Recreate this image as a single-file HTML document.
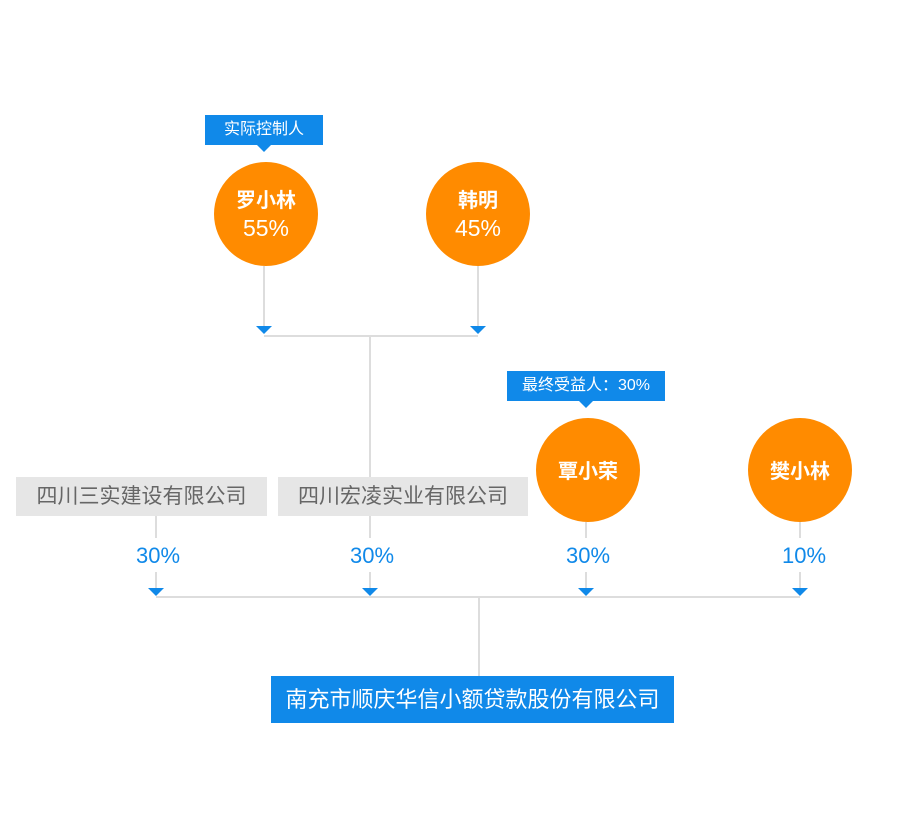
<!DOCTYPE html>
<html><head><meta charset="utf-8"><style>
body{margin:0;background:#fff;width:900px;height:839px;position:relative;overflow:hidden;font-family:"Liberation Sans","Noto Sans CJK SC",sans-serif}
.a{position:absolute}
.c{position:absolute;width:104px;height:104px;border-radius:50%;background:#FF8B00;color:#fff;text-align:center}
.tag{position:absolute;background:#1089E9;color:#fff;font-size:16px;line-height:30px;text-align:center}
.tag:after{content:"";position:absolute;left:50%;margin-left:-7px;bottom:-7px;border-left:7px solid transparent;border-right:7px solid transparent;border-top:7px solid #1089E9}
.box{position:absolute;background:#e6e6e6;color:#666;font-size:21px;line-height:39px;text-align:center}
.p{position:absolute;color:#1089E9;font-size:22px;width:80px;text-align:center}
</style></head><body>
<svg class="a" style="left:0;top:0" width="900" height="839">
<g stroke="#ddd" stroke-width="2" fill="none">
<line x1="264" y1="266" x2="264" y2="330"/><line x1="478" y1="266" x2="478" y2="330"/>
<line x1="264" y1="336" x2="478" y2="336"/><line x1="370" y1="336" x2="370" y2="477"/>
<line x1="156" y1="516" x2="156" y2="538"/><line x1="156" y1="572" x2="156" y2="592"/>
<line x1="370" y1="516" x2="370" y2="538"/><line x1="370" y1="572" x2="370" y2="592"/>
<line x1="586" y1="522" x2="586" y2="538"/><line x1="586" y1="572" x2="586" y2="592"/>
<line x1="800" y1="522" x2="800" y2="538"/><line x1="800" y1="572" x2="800" y2="592"/>
<line x1="156" y1="597" x2="800" y2="597"/><line x1="479" y1="597" x2="479" y2="676"/>
</g>
<g fill="#1089E9">
<polygon points="256,326 272,326 264,334"/><polygon points="470,326 486,326 478,334"/>
<polygon points="148,588 164,588 156,596"/><polygon points="362,588 378,588 370,596"/>
<polygon points="578,588 594,588 586,596"/><polygon points="792,588 808,588 800,596"/>
</g>
</svg>
<div class="tag" style="left:205px;top:115px;width:118px">实际控制人</div>
<div class="c" style="left:214px;top:162px"><div style="font-weight:bold;font-size:20px;margin-top:22px">罗小林</div><div style="font-size:23px;margin-top:2px">55%</div></div>
<div class="c" style="left:426px;top:162px"><div style="font-weight:bold;font-size:20px;margin-top:22px">韩明</div><div style="font-size:23px;margin-top:2px">45%</div></div>
<div class="tag" style="left:507px;top:371px;width:158px">最终受益人：30%</div>
<div class="c" style="left:536px;top:418px"><div style="font-weight:bold;font-size:20px;margin-top:37px">覃小荣</div></div>
<div class="c" style="left:748px;top:418px"><div style="font-weight:bold;font-size:20px;margin-top:37px">樊小林</div></div>
<div class="box" style="left:16px;top:477px;width:251px">四川三实建设有限公司</div>
<div class="box" style="left:278px;top:477px;width:250px">四川宏凌实业有限公司</div>
<div class="p" style="left:118px;top:543px">30%</div>
<div class="p" style="left:332px;top:543px">30%</div>
<div class="p" style="left:548px;top:543px">30%</div>
<div class="p" style="left:764px;top:543px">10%</div>
<div class="a" style="left:271px;top:676px;width:403px;height:47px;background:#1089E9;color:#fff;font-size:22px;line-height:47px;text-align:center">南充市顺庆华信小额贷款股份有限公司</div>
</body></html>
